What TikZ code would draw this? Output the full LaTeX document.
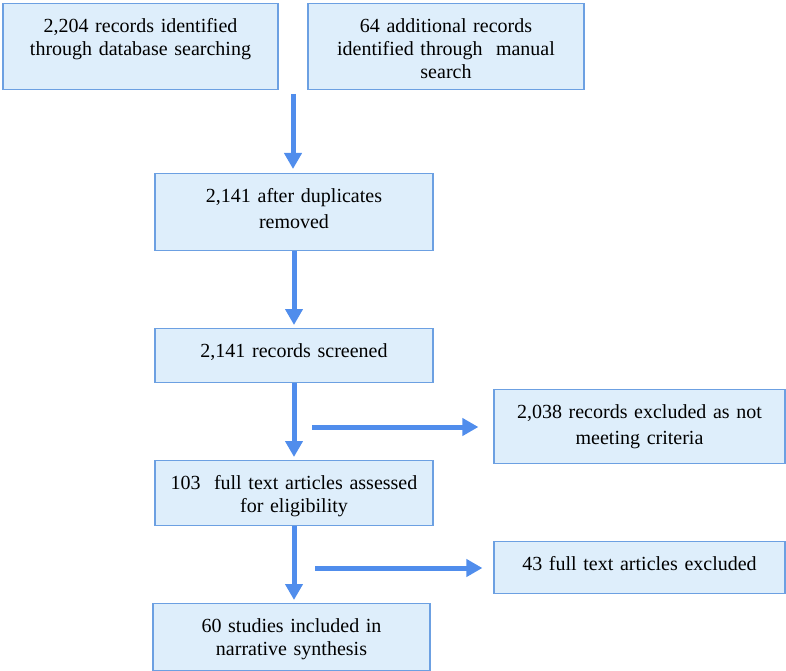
\documentclass[tikz,border=0pt]{standalone}
\usepackage{fontspec}
\setmainfont{Liberation Serif}
\usetikzlibrary{arrows.meta}
\definecolor{boxline}{RGB}{108,160,226}
\definecolor{boxfill}{RGB}{222,238,251}
\definecolor{arrowblue}{RGB}{80,141,236}

\begin{document}
\begin{tikzpicture}[
	x=1pt, y=-1pt,
	every node/.style={font=\fontsize{20}{23}\selectfont},
	stage/.style={shape=rectangle, draw=boxline, fill=boxfill, line width=1.2pt, anchor=north, align=center, inner sep=0pt, text height=28.5pt},
	wide/.style={font=\fontsize{20}{26}\selectfont},
	flow/.style={draw=arrowblue, line width=5pt, -{Triangle[width=17pt,length=16pt]}},
]
\useasboundingbox (0,0) rectangle (786,671);

\node[stage, text width=275pt, text depth=57.5pt] (ident) at (140.5,3) {2,204 records identified\\through database searching};
\node[stage, text width=276pt, text depth=57.5pt] (manual) at (446,3) {64 additional records\\identified through~ manual\\search};
\node[stage, wide, text width=278pt, text depth=48.5pt] (dedup) at (294,173) {2,141 after duplicates\\removed};
\node[stage, text width=278pt, text depth=25.5pt] (screen) at (294,328) {2,141 records screened};
\node[stage, text width=278pt, text depth=36.5pt] (assess) at (294,460) {103~ full text articles assessed\\for eligibility};
\node[stage, text width=277pt, text depth=38.5pt] (include) at (291.5,603) {60 studies included in\\narrative synthesis};
\node[stage, wide, text width=291pt, text depth=45.5pt] (exclrec) at (639.5,389) {2,038 records excluded as not\\meeting criteria};
\node[stage, text width=291pt, text depth=23.5pt] (excltext) at (639.5,541) {43 full text articles excluded};

\coordinate (merge) at (293,94);
\coordinate (split1) at (312,427);
\coordinate (split2) at (315,568);

\draw[flow, shorten >=4pt] (merge) -- (merge |- dedup.north);
\draw[flow, shorten >=3pt] (dedup) -- (screen);
\draw[flow, shorten >=3pt] (screen) -- (assess);
\draw[flow, shorten >=3pt] (assess.south) -- (assess.south |- include.north);
\draw[flow, shorten >=15pt] (split1) -- (split1 -| exclrec.west);
\draw[flow, shorten >=11pt] (split2) -- (split2 -| excltext.west);
\end{tikzpicture}
\end{document}
